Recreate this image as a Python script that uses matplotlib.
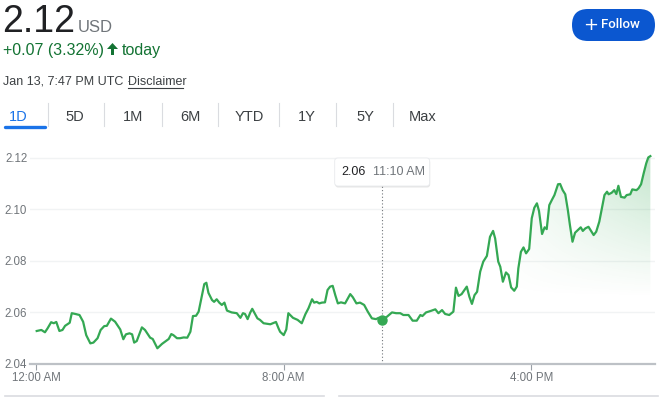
import numpy as np
import matplotlib
matplotlib.use("Agg")
import matplotlib.pyplot as plt
from matplotlib.patches import Polygon, FancyBboxPatch

plt.rcParams['font.family'] = ['Liberation Sans', 'DejaVu Sans']

# minutes since midnight (UTC) and price
minutes = [1, 10, 17, 22, 29, 34, 39, 45, 51, 56, 65, 69, 76, 84, 91, 97, 105, 111, 119, 125,
           132, 137, 145, 153, 163, 169, 174, 181, 186, 190, 195, 205, 211, 221, 226, 235, 244, 252, 257, 262,
           266, 273, 279, 286, 293, 299, 304, 310, 315, 321, 326, 330, 334, 341, 345, 350, 355, 360, 365, 370,
           379, 389, 396, 401, 405, 410, 415, 419, 429, 434, 441, 454, 459, 465, 470, 473, 480, 485, 489, 498,
           507, 515, 522, 528, 535, 539, 544, 549, 554, 560, 565, 570, 575, 580, 585, 591, 599, 609, 614, 621,
           628, 636, 643, 651, 659, 664, 670, 680, 690, 698, 706, 712, 722, 730, 738, 745, 749, 756, 764, 774,
           780, 787, 793, 801, 809, 814, 819, 825, 835, 840, 845, 850, 855, 861, 867, 874, 880, 886, 890, 896,
           900, 905, 911, 916, 921, 927, 932, 935, 940, 945, 950, 956, 961, 966, 971, 975, 981, 986, 990, 995,
           1000, 1005, 1012, 1016, 1021, 1026, 1031, 1035, 1040, 1045, 1052, 1056, 1060, 1065, 1071, 1076, 1081,
           1086, 1092, 1097, 1102, 1107, 1110, 1116, 1121, 1125, 1129, 1134, 1141, 1145, 1152, 1156, 1164, 1168,
           1173, 1178, 1183, 1187, 1191]
prices = [2.0528, 2.0532, 2.0523, 2.0538, 2.0562, 2.0558, 2.0563, 2.0528, 2.0532, 2.0548, 2.0560, 2.0597,
          2.0594, 2.0590, 2.0564, 2.0512, 2.0480, 2.0483, 2.0500, 2.0532, 2.0547, 2.0548, 2.0576, 2.0564,
          2.0534, 2.0496, 2.0515, 2.0519, 2.0515, 2.0483, 2.0489, 2.0542, 2.0532, 2.0502, 2.0497, 2.0461,
          2.0478, 2.0490, 2.0497, 2.0516, 2.0512, 2.0500, 2.0500, 2.0503, 2.0502, 2.0525, 2.0586, 2.0587,
          2.0603, 2.0661, 2.0710, 2.0715, 2.0676, 2.0648, 2.0641, 2.0651, 2.0638, 2.0629, 2.0638, 2.0607,
          2.0600, 2.0597, 2.0579, 2.0597, 2.0594, 2.0574, 2.0599, 2.0614, 2.0577, 2.0571, 2.0558, 2.0554,
          2.0558, 2.0563, 2.0538, 2.0525, 2.0512, 2.0534, 2.0597, 2.0579, 2.0571, 2.0558, 2.0593, 2.0616,
          2.0651, 2.0638, 2.0641, 2.0635, 2.0638, 2.0639, 2.0687, 2.0700, 2.0703, 2.0667, 2.0635, 2.0639,
          2.0635, 2.0671, 2.0659, 2.0635, 2.0638, 2.0629, 2.0603, 2.0577, 2.0574, 2.0579, 2.0571, 2.0583,
          2.0600, 2.0597, 2.0597, 2.0590, 2.0590, 2.0568, 2.0568, 2.0590, 2.0586, 2.0600, 2.0605, 2.0612,
          2.0597, 2.0609, 2.0594, 2.0590, 2.0603, 2.0696, 2.0664, 2.0671, 2.0700, 2.0661, 2.0633, 2.0667,
          2.0680, 2.0758, 2.0797, 2.0819, 2.0893, 2.0916, 2.0887, 2.0797, 2.0777, 2.0719, 2.0755, 2.0745,
          2.0697, 2.0684, 2.0700, 2.0771, 2.0835, 2.0852, 2.0829, 2.0846, 2.0965, 2.1006, 2.1023, 2.0994,
          2.0904, 2.0930, 2.0923, 2.1016, 2.1036, 2.1055, 2.1097, 2.1098, 2.1074, 2.1058, 2.0997, 2.0939,
          2.0874, 2.0909, 2.0922, 2.0930, 2.0916, 2.0926, 2.0932, 2.0916, 2.0900, 2.0913, 2.0952, 2.1003,
          2.1055, 2.1068, 2.1058, 2.1064, 2.1074, 2.1059, 2.1091, 2.1048, 2.1045, 2.1055, 2.1058, 2.1077,
          2.1074, 2.1081, 2.1097, 2.1139, 2.1178, 2.1201, 2.1206]

y_ticks = [2.04, 2.06, 2.08, 2.10, 2.12]
x_ticks = [0, 480, 960]
x_labels = ['12:00 AM', '8:00 AM', '4:00 PM']
tabs = ['1D', '5D', '1M', '6M', 'YTD', '1Y', '5Y', 'Max']
tab_x = [18, 75, 133, 190, 249, 307, 365, 423]
hover_min, hover_label = 670, '11:10 AM'

W, H = 666, 397
GREEN = '#34a853'
GRAY = '#70757a'

fig = plt.figure(figsize=(W / 100, H / 100), dpi=100)

# chart
ax = fig.add_axes([30 / W, 1 - 364 / H, 625 / W, 212 / H])
ax.set_xlim(-12, 1200)
ax.set_ylim(2.04, 2.1222)

for v in y_ticks[1:]:
    ax.axhline(v, color='#f1f3f4', lw=1, zorder=0)

t = np.array(minutes, dtype=float)
p = np.array(prices)
ax.plot(t, p, color=GREEN, lw=1.6, zorder=3, solid_joinstyle='round')

# gradient area under the right part of the line
verts = [(t[0], 2.04)] + list(zip(t, p)) + [(t[-1], 2.04)]
clip = Polygon(verts, facecolor='none', edgecolor='none')
ax.add_patch(clip)
gx = np.linspace(-12, 1200, 400)
gy = np.linspace(2.04, 2.1222, 200)
GX, GY = np.meshgrid(gx, gy)
alpha = 0.30 * np.clip((GX - 900) / (1190 - 900), 0, 1) ** 0.8 * np.clip((GY - 2.066) / (2.122 - 2.066), 0, 1)
rgba = np.zeros(GX.shape + (4,))
rgba[..., 0], rgba[..., 1], rgba[..., 2] = 0x34 / 255, 0xa8 / 255, 0x53 / 255
rgba[..., 3] = alpha
im = ax.imshow(rgba, extent=(-12, 1200, 2.04, 2.1222), origin='lower', aspect='auto',
               interpolation='bilinear', zorder=1)
im.set_clip_path(clip)

# hover marker and dotted line
hp = p[minutes.index(hover_min)]
ax.plot([hover_min, hover_min], [2.04, 2.109], color=GRAY, lw=0.8, ls=(0, (1, 2)), zorder=2)
ax.plot(hover_min, hp, 'o', color=GREEN, ms=6.5, zorder=4)

for s in ['top', 'right', 'left']:
    ax.spines[s].set_visible(False)
ax.spines['bottom'].set_color('#bdc1c6')
ax.spines['bottom'].set_linewidth(1.6)
ax.set_yticks(y_ticks)
ax.set_yticklabels(['%.2f' % v for v in y_ticks])
ax.tick_params(axis='y', length=0, pad=2, labelsize=8.3, labelcolor=GRAY)
ax.set_xticks(x_ticks)
ax.set_xticklabels(x_labels)
ax.tick_params(axis='x', length=4.5, width=0.8, color='#9aa0a6', pad=1.5, labelsize=8.3, labelcolor=GRAY)
ax.set_facecolor('none')

# overlay in pixel coordinates (origin top-left) for the page furniture
ov = fig.add_axes([0, 0, 1, 1], zorder=10)
ov.set_xlim(0, W)
ov.set_ylim(H, 0)
ov.axis('off')
ov.patch.set_alpha(0)

# header
ov.text(2, 32, '2.12', fontsize=27, color='#202124', va='baseline')
ov.text(78, 32, 'USD', fontsize=12, color=GRAY, va='baseline')
ov.text(3, 55, '+0.07 (3.32%)', fontsize=11.5, color='#137333', va='baseline')
# filled up-arrow
ov.add_patch(Polygon([(107, 49), (112.5, 43), (118, 49), (114, 49), (114, 55), (111, 55), (111, 49)],
                     closed=True, facecolor='#137333', edgecolor='none'))
ov.text(122, 55, 'today', fontsize=11.5, color='#137333', va='baseline')
ov.text(3, 85, 'Jan 13, 7:47 PM UTC \u00b7', fontsize=9, color='#3c4043', va='baseline')
ov.text(128, 85, 'Disclaimer', fontsize=9, color='#3c4043', va='baseline')
ov.plot([128, 183], [88, 88], color='#3c4043', lw=0.8)

# follow button
ov.add_patch(FancyBboxPatch((572, 9), 83, 32, boxstyle='round,pad=0,rounding_size=16',
                            facecolor='#0b57d0', edgecolor='none'))
ov.text(591, 25, '+', fontsize=13, color='white', ha='center', va='center', family='DejaVu Sans')
ov.text(620, 25, 'Follow', fontsize=9.5, color='white', ha='center', va='center',
        family=['Roboto', 'DejaVu Sans'], weight='medium')

# range tabs
for i, (lab, x) in enumerate(zip(tabs, tab_x)):
    ov.text(x, 121, lab, fontsize=10.5, ha='center', va='baseline',
            color='#1a73e8' if i == 0 else '#3c4043')
for x in [47.5, 104, 162, 218, 279, 336, 393]:
    ov.plot([x, x], [103, 126], color='#dadce0', lw=0.8)
ov.plot([5, 45], [127, 127], color='#1a73e8', lw=2.4, solid_capstyle='round')

# tooltip box
fig.canvas.draw()
mx, _ = ax.transData.transform((hover_min, hp))
bx0, bx1 = mx - 47, mx + 48
ov.add_patch(FancyBboxPatch((bx0 + 0.5, 159.5), bx1 - bx0, 28, boxstyle='round,pad=0,rounding_size=3',
                            facecolor='black', alpha=0.10, edgecolor='none'))
ov.add_patch(FancyBboxPatch((bx0, 158), bx1 - bx0, 28, boxstyle='round,pad=0,rounding_size=3',
                            facecolor='white', edgecolor='#e8eaed', lw=0.6))
ov.text(bx0 + 7, 172, '%.2f' % hp, fontsize=9, color='#202124', va='center')
ov.text(bx0 + 38, 172, hover_label, fontsize=9, color=GRAY, va='center')

# panel borders at the bottom
ov.plot([5, 324], [396, 396], color='#dadce0', lw=1.2)
ov.plot([339, 658], [396, 396], color='#dadce0', lw=1.2)

fig.savefig('out.png', dpi=100)
